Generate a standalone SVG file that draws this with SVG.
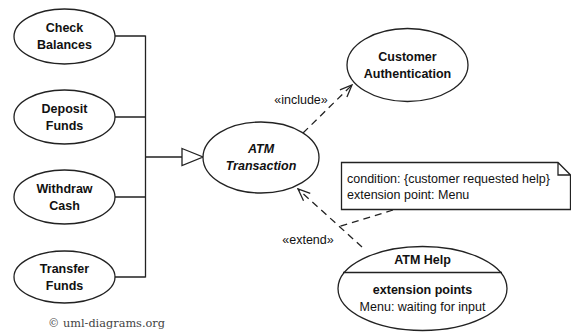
<svg xmlns="http://www.w3.org/2000/svg" width="571" height="332" viewBox="0 0 571 332">
  <style>
    .uc { fill: #fff; stroke: #222; stroke-width: 1.3; }
    .t { font-family: "Liberation Sans", Arial, sans-serif; font-size: 12.5px; fill: #111; text-anchor: middle; }
    .b { font-weight: bold; }
    .i { font-style: italic; }
    .l { text-anchor: start; }
    .ln { fill: none; stroke: #222; stroke-width: 1.3; }
    .dash { fill: none; stroke: #222; stroke-width: 1.3; stroke-dasharray: 7 5; }
  </style>
  <defs>
    <marker id="open" viewBox="0 0 14 12" refX="13" refY="6" markerWidth="14" markerHeight="12" markerUnits="userSpaceOnUse" orient="auto">
      <path d="M1,1 L13,6 L1,11" fill="none" stroke="#222" stroke-width="1.3"/>
    </marker>
  </defs>
  <rect width="571" height="332" fill="#fff"/>

  <!-- connectors -->
  <g id="connectors">
    <!-- generalization tree -->
    <path class="ln" d="M115,36 H145.5 M115,117 H145.5 M115,197 H145.5 M115,277 H145.5 M145.5,35.5 V277.5 M145.5,157 H182"/>
    <polygon points="182,148.5 203,157 182,165.5" fill="#fff" stroke="#222" stroke-width="1.3"/>
    <!-- include -->
    <line class="dash" x1="303" y1="133" x2="352" y2="85" marker-end="url(#open)"/>
    <text class="t" x="301" y="104">«include»</text>
    <!-- extend -->
    <line class="dash" x1="362" y1="247" x2="298" y2="189" marker-end="url(#open)"/>
    <text class="t" x="308" y="244">«extend»</text>
    <!-- note anchor -->
    <line class="dash" x1="393" y1="210" x2="338" y2="227"/>
  </g>

  <g id="check-balances">
    <ellipse class="uc" cx="64.5" cy="36.5" rx="50.5" ry="27.5"/>
    <text class="t b" x="64.5" y="32">Check</text>
    <text class="t b" x="64.5" y="49">Balances</text>
  </g>
  <g id="deposit-funds">
    <ellipse class="uc" cx="64.5" cy="117" rx="50.5" ry="27"/>
    <text class="t b" x="64.5" y="113">Deposit</text>
    <text class="t b" x="64.5" y="130">Funds</text>
  </g>
  <g id="withdraw-cash">
    <ellipse class="uc" cx="64.5" cy="197" rx="50.5" ry="27"/>
    <text class="t b" x="64.5" y="193">Withdraw</text>
    <text class="t b" x="64.5" y="210">Cash</text>
  </g>
  <g id="transfer-funds">
    <ellipse class="uc" cx="64.5" cy="277" rx="50.5" ry="26"/>
    <text class="t b" x="64.5" y="273">Transfer</text>
    <text class="t b" x="64.5" y="290">Funds</text>
  </g>

  <g id="atm-transaction">
    <ellipse class="uc" cx="261" cy="157.5" rx="58" ry="35.5"/>
    <text class="t b i" x="261" y="153">ATM</text>
    <text class="t b i" x="261" y="170">Transaction</text>
  </g>

  <g id="customer-authentication">
    <ellipse class="uc" cx="407.5" cy="65" rx="60.5" ry="36.5"/>
    <text class="t b" x="407.5" y="61">Customer</text>
    <text class="t b" x="407.5" y="78">Authentication</text>
  </g>

  <g id="note">
    <path class="ln" d="M341.5,162.5 H558 L570.5,175 V209.5 H341.5 Z M558,162.5 V175 H570.5" fill="#fff"/>
    <text class="t l" x="347" y="183">condition: {customer requested help}</text>
    <text class="t l" x="347" y="199">extension point: Menu</text>
  </g>

  <g id="atm-help">
    <ellipse class="uc" cx="422.5" cy="288.5" rx="84.5" ry="42"/>
    <line class="ln" x1="343" y1="272.5" x2="502" y2="272.5"/>
    <text class="t b" x="422.5" y="264">ATM Help</text>
    <text class="t b" x="422.5" y="294">extension points</text>
    <text class="t" x="422.5" y="311">Menu: waiting for input</text>
  </g>

  <text x="48" y="327" font-family="'DejaVu Serif', 'Liberation Serif', serif" font-size="11" fill="#444" textLength="117" lengthAdjust="spacingAndGlyphs">© uml-diagrams.org</text>
</svg>
